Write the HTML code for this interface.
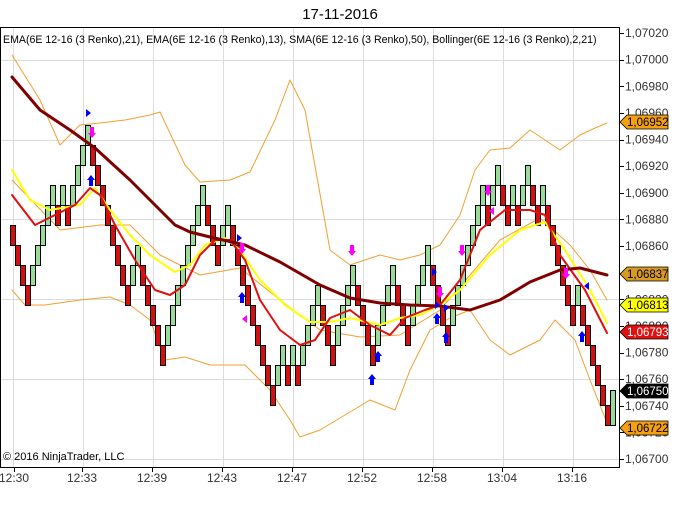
<!DOCTYPE html>
<html><head><meta charset="utf-8"><style>
html,body{margin:0;padding:0;background:#fff;}
svg{display:block;font-family:"Liberation Sans",Arial,sans-serif;}
polyline{stroke-linejoin:round;stroke-linecap:round;}
</style></head><body>
<svg id="c" width="679" height="509" viewBox="0 0 679 509" xmlns="http://www.w3.org/2000/svg">
<rect width="679" height="509" fill="#fff"/>
<text x="340" y="19" font-size="15" text-anchor="middle" fill="#000">17-11-2016</text>
<defs><clipPath id="pc"><rect x="1" y="28" width="618" height="439"/></clipPath></defs>
<g id="grid" stroke="#dcdcdc" stroke-width="1"></g>
<g clip-path="url(#pc)">
<polyline fill="none" stroke="#f0a030" stroke-width="1" points="12,55 40,100 60,145 80,125 100,123 125,120 150,115 160,112 185,165 200,182 230,180 250,172 275,120 290,80 305,110 330,250 350,265 380,255 400,260 420,255 440,245 460,215 475,170 490,150 510,148 530,130 560,150 580,135 595,128 607,123"/>
<polyline fill="none" stroke="#f0a030" stroke-width="1" points="12,290 25,305 45,305 80,300 110,297 130,305 150,320 165,360 185,357 210,365 245,365 270,390 290,420 300,437 320,430 345,415 370,400 395,410 410,370 430,330 450,318 470,310 490,340 510,355 540,340 555,320 575,340 590,380 607,423"/>
<polyline fill="none" stroke="#f0a030" stroke-width="1" points="12,180 60,230 100,225 130,225 160,255 200,275 240,268 280,300 320,330 360,337 400,335 440,310 470,275 500,240 540,218 570,245 590,270 607,300"/>
<g id="bricks"></g>
<polyline fill="none" stroke="#ffff00" stroke-width="2" points="12,170 30,200 50,210 80,205 95,188 110,210 130,235 150,255 175,272 190,265 205,245 225,238 240,250 260,280 285,305 310,322 330,322 350,318 380,325 400,318 420,315 440,305 460,290 490,255 520,230 545,222 565,250 590,290 607,323"/>
<polyline fill="none" stroke="#e01010" stroke-width="2" points="12,195 35,225 55,215 75,205 90,188 100,195 115,225 135,260 155,290 170,295 185,285 200,255 215,240 230,240 245,260 260,300 280,330 300,345 315,340 330,318 350,310 370,325 390,335 405,318 425,310 440,305 460,280 480,230 505,210 530,210 545,215 560,255 585,290 607,333"/>
<polyline fill="none" stroke="#800000" stroke-width="3" points="12,77 40,110 70,130 95,148 130,180 150,200 175,225 190,232 210,237 245,245 280,262 320,285 350,298 380,303 410,305 440,306 470,310 500,300 530,282 560,270 580,268 607,275"/>
<g id="arrows"></g>
</g>
<rect x="0.5" y="27.5" width="619" height="440" fill="none" stroke="#000"/>
<text x="3" y="43" font-size="10.6" fill="#000" clip-path="url(#pc)">EMA(6E 12-16 (3 Renko),21), EMA(6E 12-16 (3 Renko),13), SMA(6E 12-16 (3 Renko),50), Bollinger(6E 12-16 (3 Renko),2,21)</text>
<text x="3" y="460" font-size="11" fill="#000">© 2016 NinjaTrader, LLC</text>
<g id="yax" font-size="12" fill="#333"></g>
<g id="xax" font-size="12" fill="#333"></g>
<g id="tags" font-size="11.5"></g>
</svg>
<script>
var NS="http://www.w3.org/2000/svg";
function el(p,t,a,txt){var e=document.createElementNS(NS,t);for(var k in a)e.setAttribute(k,a[k]);if(txt!=null)e.textContent=txt;document.getElementById(p).appendChild(e);return e;}
[13,83,153,223,293,363,433,503,573].forEach(function(x){el("grid","line",{x1:x+.5,y1:28,x2:x+.5,y2:467});});
[59.6,139.5,219.4,299.3,379.1,459].forEach(function(y){el("grid","line",{x1:1,y1:Math.round(y)+.5,x2:619,y2:Math.round(y)+.5});});
for(var i=0;i<=16;i++){var p=1.0702-i*0.0002;var y=33+i*26.625;
el("yax","line",{x1:619,y1:Math.round(y)+.5,x2:624,y2:Math.round(y)+.5,stroke:"#000"});
el("yax","text",{x:625,y:y+4},p.toFixed(5).replace(".",","));}
var xl=[[14,"12:30"],[82,"12:33"],[152,"12:39"],[222,"12:43"],[292,"12:47"],[362,"12:52"],[432,"12:58"],[502,"13:04"],[572,"13:16"]];
xl.forEach(function(a){el("xax","line",{x1:a[0]+.5,y1:467,x2:a[0]+.5,y2:472,stroke:"#000"});el("xax","text",{x:a[0],y:482,"text-anchor":"middle"},a[1]);});
var K=[11,12,13,14,13,12,11,10,9,10,9,10,9,8,7,6,7,8,9,10,11,12,13,14,13,12,13,14,15,16,17,16,15,14,13,12,11,10,9,10,
11,12,11,10,11,12,13,14,15,16,17,18,19,18,17,18,17,18,17,16,15,14,15,16,17,16,15,14,13,14,15,16,17,16,15,14,13,14,15,16,
15,14,13,12,13,14,15,16,15,14,13,12,11,10,9,10,9,8,9,10,9,10,9,8,9,10,9,10,11,12,13,14,15,14,15,16,17,18,19,20];
for(var i=0;i<K.length;i++){var up=i>0&&K[i]<K[i-1];
el("bricks","rect",{x:10+5*i+.5,y:5+20*K[i]+.5,width:5,height:20,fill:up?"#98dc98":"#d40f0f",stroke:"#000","stroke-width":1});}
el("bricks","rect",{x:610.5,y:390.5,width:5,height:35,fill:"#98dc98",stroke:"#000","stroke-width":1});
function arr(x,y,c,down){var d=down?1:-1;el("arrows","polygon",{points:[x-2,y,x+2,y,x+2,y+6*d,x+4,y+6*d,x,y+11*d,x-4,y+6*d,x-2,y+6*d].join(" "),fill:c});}
arr(92,127,"#ff00ff",true);arr(91,186,"#0000ff",false);arr(242,243,"#ff00ff",true);arr(242,303,"#0000ff",false);
arr(352,245,"#ff00ff",true);arr(372,385,"#0000ff",false);arr(378,362,"#0000ff",false);arr(440,287,"#ff00ff",true);
arr(437,324,"#0000ff",false);arr(446,343,"#0000ff",false);arr(462,245,"#ff00ff",true);arr(488,185,"#ff00ff",true);
arr(566,268,"#ff00ff",true);arr(582,342,"#0000ff",false);
function tri(x,y,c,right){el("arrows","polygon",{points:right?[x,y-4,x+5,y,x,y+4].join(" "):[x+5,y-4,x,y,x+5,y+4].join(" "),fill:c});}
tri(86,113,"#0000ff",true);tri(237,238,"#0000ff",true);tri(242,319,"#ff00ff",false);tri(432,272,"#0000ff",true);
tri(435,305,"#0000ff",true);tri(444,308,"#0000ff",true);tri(489,211,"#ff00ff",false);tri(584,286,"#0000ff",false);
var tg=[[122,"1,06952","#f5a010","#000"],[274,"1,06837","#d89a20","#000"],[305,"1,06813","#ffff00","#000"],[332,"1,06793","#e01010","#fff"],[391,"1,06750","#000","#fff"],[428,"1,06722","#f5a010","#000"]];
tg.forEach(function(t){var y=t[0];el("tags","polygon",{points:[620,y,627,y-7,668,y-7,668,y+7,627,y+7].join(" "),fill:t[2],stroke:"#000","stroke-width":0.8});
el("tags","text",{x:627,y:y+4,fill:t[3]},t[1]);});
</script>
</body></html>
